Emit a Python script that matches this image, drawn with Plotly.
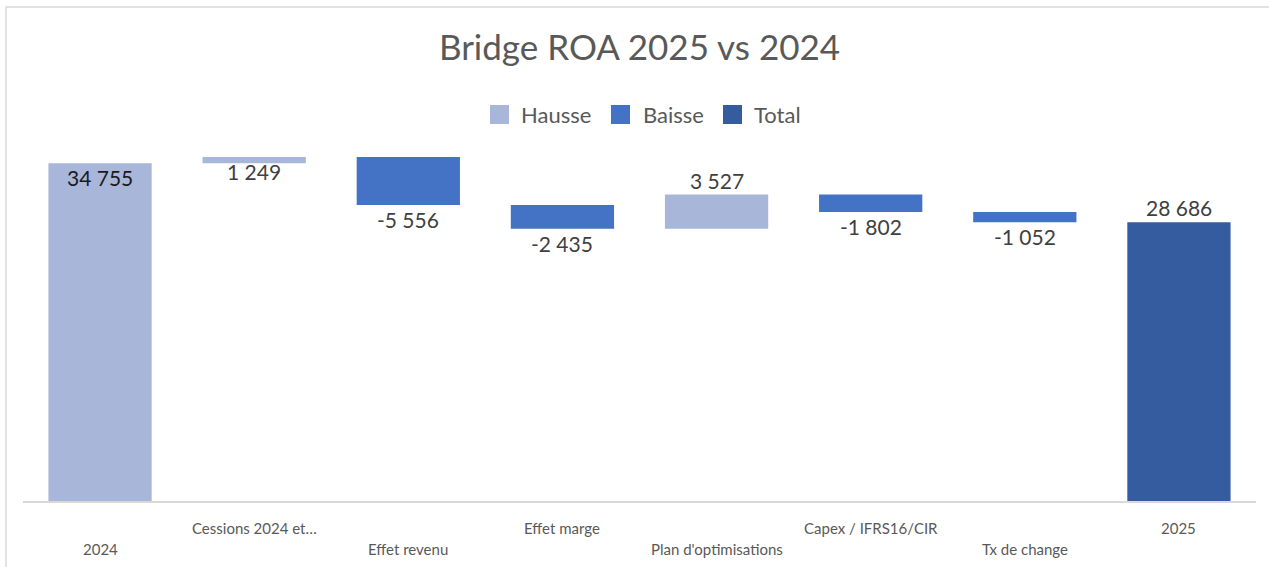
import plotly.graph_objects as go

# ---------------- data ----------------
categories = ["2024", "Cessions 2024 et…", "Effet revenu", "Effet marge",
              "Plan d'optimisations", "Capex / IFRS16/CIR", "Tx de change", "2025"]
values = [34755, 1249, -5556, -2435, 3527, -1802, -1052, 28686]
kinds = ["hausse", "hausse", "baisse", "baisse", "hausse", "baisse", "baisse", "total"]
legend_names = {"hausse": "Hausse", "baisse": "Baisse", "total": "Total"}
title_text = "Bridge ROA 2025 vs 2024"

# ---------------- style ----------------
colors = {"hausse": "#A8B6DA", "baisse": "#4472C4", "total": "#345C9F"}
FONT = "Lato"
Y_MAX = 35400
W, H = 1269, 567
ML, MR, MT, MB = 23, 13, 157, 66
PLOT_W = W - ML - MR
PLOT_H = H - MT - MB


def px_x(px):
    return (px - ML) / PLOT_W


def px_y(py):
    return (H - MB - py) / PLOT_H


def fmt(v):
    s = f"{abs(v):,}".replace(",", " ")
    return ("-" if v < 0 else "") + s


# waterfall geometry
starts, ends = [], []
running = 0
for v, k in zip(values, kinds):
    if k == "total":
        s, e = 0, v
        running = v
    else:
        s, e = running, running + v
        running = e
    starts.append(s)
    ends.append(e)

positions = list(range(len(categories)))

fig = go.Figure()
for k in ["hausse", "baisse", "total"]:
    idx = [i for i, kk in enumerate(kinds) if kk == k]
    fig.add_trace(go.Bar(
        x=[positions[i] for i in idx],
        y=[abs(ends[i] - starts[i]) for i in idx],
        base=[min(starts[i], ends[i]) for i in idx],
        marker=dict(color=colors[k], line=dict(width=0)),
        width=0.67,
        name=legend_names[k],
        showlegend=False,
        hoverinfo="skip",
    ))

annotations = []
# data labels
for i, (v, k) in enumerate(zip(values, kinds)):
    e = ends[i]
    if k == "baisse":
        y, anchor, color, shift = e, "top", "#404040", 0
    elif e > 0.93 * Y_MAX:
        y, anchor, color, shift = min(e, Y_MAX), "top", ("#1a1a1a" if i == 0 else "#404040"), 0
    else:
        y, anchor, color, shift = e, "bottom", "#404040", 0
    annotations.append(dict(
        x=positions[i], y=y, xref="x", yref="y", text=fmt(v),
        showarrow=False, yanchor=anchor, yshift=shift,
        font=dict(family=FONT, size=21, color=color),
    ))

# staggered category labels
for i, c in enumerate(categories):
    py = 528 if i % 2 == 1 else 549
    annotations.append(dict(
        x=positions[i], y=px_y(py), xref="x", yref="paper", text=c,
        showarrow=False, yanchor="middle",
        font=dict(family=FONT, size=15, color="#595959"),
    ))

# legend (manual, to reproduce large square keys)
shapes = []
legend_items = [("hausse", 490, 519), ("baisse", 611, 641), ("total", 723, 752)]
for k, sq_x, tx_x in legend_items:
    shapes.append(dict(type="rect", xref="paper", yref="paper",
                       x0=px_x(sq_x), x1=px_x(sq_x + 19),
                       y0=px_y(124), y1=px_y(105),
                       fillcolor=colors[k], line=dict(width=0)))
    annotations.append(dict(
        x=px_x(tx_x), y=px_y(114), xref="paper", yref="paper",
        text=legend_names[k], showarrow=False, xanchor="left", yanchor="middle",
        font=dict(family=FONT, size=22, color="#595959"),
    ))

# chart border
shapes.append(dict(type="rect", xref="paper", yref="paper",
                   x0=px_x(6), x1=px_x(W + 20), y0=px_y(H + 20), y1=px_y(7),
                   line=dict(color="#D9D9D9", width=1.5), fillcolor="rgba(0,0,0,0)",
                   layer="below"))

fig.update_layout(
    width=W, height=H,
    margin=dict(l=ML, r=MR, t=MT, b=MB),
    paper_bgcolor="white", plot_bgcolor="white",
    barmode="overlay",
    title=dict(text=title_text, x=0.5, xref="paper", y=1 - 48 / H, yref="container",
               yanchor="middle", xanchor="center",
               font=dict(family=FONT, size=35, color="#595959")),
    xaxis=dict(range=[-0.5, len(categories) - 0.5],
               showticklabels=False, showgrid=False, zeroline=False,
               showline=True, linecolor="#D9D9D9", linewidth=1.5, ticks=""),
    yaxis=dict(range=[0, Y_MAX], visible=False, showgrid=False, zeroline=False),
    annotations=annotations,
    shapes=shapes,
    showlegend=False,
)

fig.write_html("out.html")
